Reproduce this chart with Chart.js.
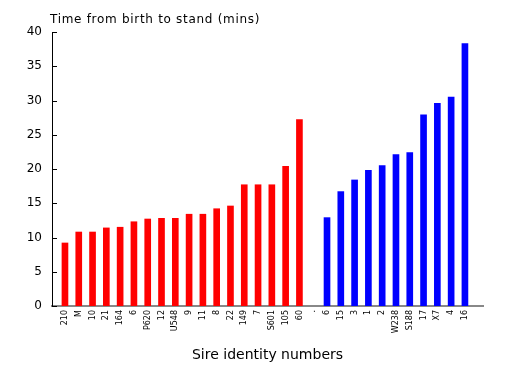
<!DOCTYPE html>
<html>
<head>
<meta charset="utf-8">
<script src="https://cdn.jsdelivr.net/npm/chart.js@4"></script>
<style>
  html, body { margin: 0; padding: 0; background: #fff; }
  #wrap { width: 509px; height: 375px; }
</style>
</head>
<body>
<div id="wrap"><canvas id="standChart" width="509" height="375"></canvas></div>
<script>
// sires, first group (red) and second group (blue)
const redSires = ["210", "M", "10", "21", "164", "6", "P620", "12", "U548", "9", "11", "8", "22", "149", "7", "S601", "105", "60"];
const redTimes = [9.2, 10.8, 10.8, 11.4, 11.5, 12.3, 12.7, 12.8, 12.8, 13.4, 13.4, 14.2, 14.6, 17.7, 17.7, 17.7, 20.4, 27.2];
const blueSires = ["6", "15", "3", "1", "2", "W238", "S188", "17", "X7", "4", "16"];
const blueTimes = [12.9, 16.7, 18.4, 19.8, 20.5, 22.1, 22.4, 27.9, 29.6, 30.5, 38.3];
const yTicks = [0, 5, 10, 15, 20, 25, 30, 35, 40];

// one empty slot "." between the groups
const labels = redSires.concat(["."], blueSires);
const redPoints = redTimes.map((v, i) => ({ x: i, y: v }));
const blueOffset = redSires.length + 1;
const bluePoints = blueTimes.map((v, i) => ({ x: blueOffset + i, y: v }));

// little ticks pointing into the plot, plus the title text top-left
const innerTicks = {
  id: "innerTicks",
  afterDraw(chart) {
    const ctx = chart.ctx;
    const y = chart.scales.y;
    const left = chart.chartArea.left;
    ctx.save();
    ctx.strokeStyle = "#000";
    ctx.lineWidth = 1;
    yTicks.forEach(v => {
      const py = Math.round(y.getPixelForValue(v)) + 0.5;
      ctx.beginPath();
      ctx.moveTo(left, py);
      ctx.lineTo(left + 5, py);
      ctx.stroke();
    });
    ctx.fillStyle = "#000";
    ctx.font = "12px 'DejaVu Sans'";
    ctx.letterSpacing = "0.7px";
    ctx.textBaseline = "middle";
    ctx.fillText("Time from birth to stand (mins)", 50, 20);
    ctx.restore();
  }
};

const ctx = document.getElementById("standChart").getContext("2d");
new Chart(ctx, {
  type: "bar",
  data: {
    datasets: [
      { data: redPoints, backgroundColor: "#ff0000", barThickness: 6 },
      { data: bluePoints, backgroundColor: "#0000ff", barThickness: 6 }
    ]
  },
  options: {
    responsive: false,
    animation: false,
    layout: { padding: { top: 32, right: 26, left: 0, bottom: 0 } },
    plugins: { legend: { display: false }, tooltip: { enabled: false } },
    datasets: { bar: { grouped: false } },
    scales: {
      x: {
        type: "linear",
        min: -0.94,
        max: 30.31,
        offset: false,
        grid: { display: false, drawTicks: false },
        border: { color: "#888", width: 2 },
        afterBuildTicks(scale) { scale.ticks = labels.map((l, i) => ({ value: i })); },
        ticks: {
          autoSkip: false,
          minRotation: 90,
          maxRotation: 90,
          padding: 4,
          color: "#000",
          font: { family: "'DejaVu Sans'", size: 8 },
          callback: (v) => labels[v]
        },
        title: {
          display: true,
          text: "Sire identity numbers",
          color: "#000",
          font: { family: "'DejaVu Sans'", size: 14 },
          padding: { top: 0, bottom: 11 }
        },
        afterFit(scale) { scale.height = 69; }
      },
      y: {
        min: 0,
        max: 40,
        grid: { display: false, drawTicks: false },
        border: { color: "#000", width: 1 },
        afterBuildTicks(scale) { scale.ticks = yTicks.map(v => ({ value: v })); },
        ticks: {
          padding: 10,
          color: "#000",
          font: { family: "'DejaVu Sans'", size: 12 }
        },
        afterFit(scale) { scale.width = 52; }
      }
    }
  },
  plugins: [innerTicks]
});
</script>
</body>
</html>
